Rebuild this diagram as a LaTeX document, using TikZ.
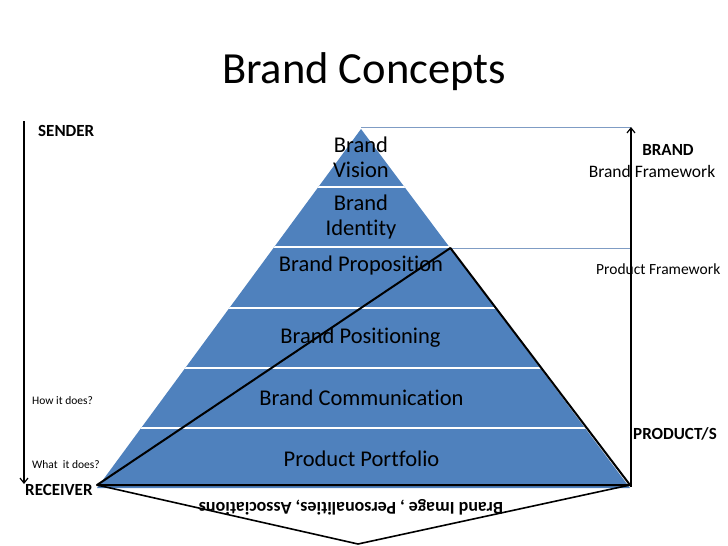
\documentclass[tikz,border=0pt]{standalone}
\usepackage{fontspec}
\setmainfont{Carlito}[Ligatures={NoCommon}]
\usetikzlibrary{arrows.meta}
\definecolor{pyrblue}{HTML}{4F81BD}
\definecolor{thinblue}{HTML}{7F9CC4}
\tikzset{
  layertext/.style={font=\fontsize{22.5}{25}\selectfont, align=center, inner sep=0pt},
  biglabel/.style={font=\fontsize{17}{20}\selectfont\bfseries, inner sep=0pt},
  smalllabel/.style={font=\fontsize{11.5}{13}\selectfont, inner sep=0pt},
  blackline/.style={black, line width=2pt, line join=round},
  arrowline/.style={black, line width=1.6pt, -{Straight Barb[length=5pt,width=8pt,line width=1.2pt]}},
  thinline/.style={thinblue, line width=0.9pt}
}
\begin{document}
\begin{tikzpicture}[x=1pt,y=-1pt]
\useasboundingbox (0,0) rectangle (728,546);
% title
\node[font=\fontsize{44.5}{48}\selectfont, inner sep=0pt] (title) at (364,72) {Brand Concepts};
% pyramid
\coordinate (apex) at (361,129);
\coordinate (bl) at (97,488);
\coordinate (br) at (630,488);
\fill[pyrblue] (apex) -- (bl) -- (br) -- cycle;
\begin{scope}
\clip (apex) -- (bl) -- (br) -- cycle;
\foreach \yy in {187,247,308,368,428} {
  \draw[white, line width=2pt] (0,\yy) -- (728,\yy);
}
\end{scope}
% thin lines
\coordinate (top) at (361,127);
\coordinate (topr) at (631,127);
\coordinate (mid) at (450.4,248);
\coordinate (midr) at (631,248);
\draw[thinline] (top) -- (topr);
\draw[thinline] (mid) -- (midr);
% layer texts
\node[layertext] (vision) at (361,157.5) {Brand\\Vision};
\node[layertext] (identity) at (361,216.5) {Brand\\Identity};
\node[layertext] (proposition) at (361,265) {Brand Proposition};
\node[layertext] (positioning) at (360.5,338) {Brand Positioning};
\node[layertext] (communication) at (361.5,398) {Brand Communication};
\node[layertext] (portfolio) at (361.5,459) {Product Portfolio};
% black triangle
\coordinate (recv) at (97,485);
\coordinate (prod) at (630,485);
\draw[blackline] (recv) -- (mid) -- (prod) -- cycle;
% bottom V
\coordinate (vtip) at (358,544);
\draw[black, line width=1.6pt, line join=miter] (recv) -- (vtip) -- (prod);
\node[font=\fontsize{18}{20}\selectfont\bfseries, inner sep=0pt, rotate=180] (image) at (351,507) {Brand Image , Personalities, Associations};
% arrows
\coordinate (ltop) at (24,121);
\coordinate (lbot) at (24,484);
\draw[arrowline] (ltop) -- (lbot);
\coordinate (rbot) at (631,487);
\coordinate (rtop) at (631,127);
\draw[arrowline] (rbot) -- (rtop);
% labels
\node[biglabel, anchor=west] (sender) at (38,131) {SENDER};
\node[biglabel, anchor=west] (receiver) at (25,490) {RECEIVER};
\node[smalllabel, anchor=west] (how) at (32,401) {How it does?};
\node[smalllabel, anchor=west] (what) at (32,465) {What\ \ it does?};
\node[biglabel] (brand) at (668,150) {BRAND};
\node[font=\fontsize{17.5}{20}\selectfont, inner sep=0pt] (bframe) at (652,171) {Brand Framework};
\node[font=\fontsize{15.5}{18}\selectfont, inner sep=0pt, anchor=west] (pframe) at (596,269) {Product Framework};
\node[biglabel, anchor=west] (products) at (633,434) {PRODUCT/S};
\end{tikzpicture}
\end{document}
